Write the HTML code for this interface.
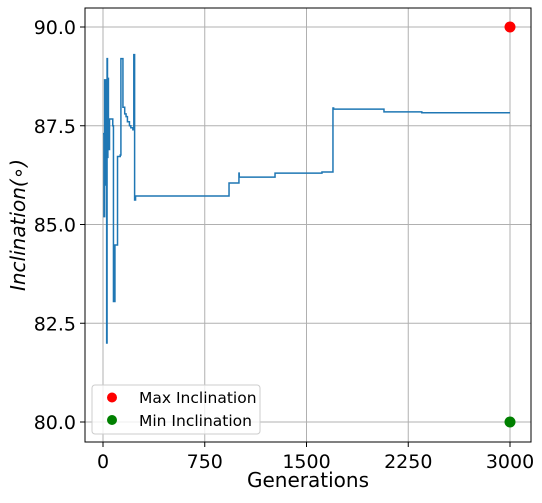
<!DOCTYPE html>
<html><head><meta charset="utf-8"><style>
body{margin:0;background:#fff;}
svg text{font-family:"DejaVu Sans","Liberation Sans",sans-serif;}
</style></head><body>
<svg id="chart" width="542" height="498" xmlns="http://www.w3.org/2000/svg">
<g id="grid"></g>
<g id="series"></g>
<rect x="85" y="8" width="446" height="434" fill="none" stroke="#000" stroke-width="1"/>
<g id="ticks"></g>
<text x="308" y="487" font-size="20" text-anchor="middle">Generations</text>
<text transform="translate(25,225) rotate(-90)" font-size="20" font-style="italic" text-anchor="middle">Inclination(∘)</text>
<g>
<rect x="92" y="385" width="168" height="49" rx="3" fill="#fff" fill-opacity="0.8" stroke="#ccc"/>
<circle cx="112" cy="397.5" r="5" fill="red"/>
<text x="139" y="403" font-size="15.5">Max Inclination</text>
<circle cx="112" cy="420" r="5" fill="green"/>
<text x="139" y="426" font-size="15.5">Min Inclination</text>
</g>
</svg>
<script>
const stepGens = [0,7,12,20,27,30,33,36,40,48,72,77,88,107,127,132,147,160,170,180,195,205,220,227,233,240,929,1002,1004,1268,1614,1695,1700,2071,2350];
const stepVals = [87.3,85.2,88.66,86.0,82.0,89.2,86.7,88.7,86.9,87.67,87.5,83.05,84.48,86.72,86.76,89.2,87.97,87.8,87.73,87.6,87.5,87.45,87.4,89.3,85.62,85.72,86.05,86.3,86.2,86.3,86.33,87.95,87.92,87.85,87.83];
const lastGen = 3000;
const maxPoint = [3000, 90];
const minPoint = [3000, 80];
const xTicks = [0,750,1500,2250,3000];
const yTicks = [80,82.5,85,87.5,90];
const yTickLabels = ["80.0","82.5","85.0","87.5","90.0"];

const NS="http://www.w3.org/2000/svg";
const X = g => 103 + g*(510-103)/3000;
const Y = v => 422 - (v-80)*(422-27)/10;
const grid=document.getElementById('grid'), ticks=document.getElementById('ticks'), series=document.getElementById('series');
function mk(tag,attrs,parent){const e=document.createElementNS(NS,tag);for(const k in attrs)e.setAttribute(k,attrs[k]);parent.appendChild(e);return e;}
xTicks.forEach(t=>{
  const gl=mk('line',{x1:X(t),x2:X(t),y1:8,y2:442,stroke:'#b0b0b0','stroke-width':1},grid);
  
  
  const tl=mk('line',{x1:X(t),x2:X(t),y1:442,y2:447,stroke:'#000'},ticks);
  
  
  const tx=mk('text',{x:X(t),y:468,'font-size':19,'text-anchor':'middle'},ticks);
  tx.textContent=t;
  
  
});
yTicks.forEach((t,i)=>{
  const gl=mk('line',{x1:85,x2:531,y1:Y(t),y2:Y(t),stroke:'#b0b0b0','stroke-width':1},grid);
  
  
  const tl=mk('line',{x1:80,x2:85,y1:Y(t),y2:Y(t),stroke:'#000'},ticks);
  
  
  const tx=mk('text',{x:76,y:Y(t)+7,'font-size':19,'text-anchor':'end'},ticks);
  tx.textContent=yTickLabels[i];
  
  
});
let pts=[];
stepGens.forEach((g,i)=>{
  const end = i+1<stepGens.length ? stepGens[i+1] : lastGen;
  pts.push(X(g).toFixed(2)+','+Y(stepVals[i]).toFixed(2));
  pts.push(X(end).toFixed(2)+','+Y(stepVals[i]).toFixed(2));
});
const pl=mk('polyline',{points:pts.join(' '),fill:'none',stroke:'#1f77b4','stroke-width':1.5},series);


const mx=mk('circle',{cx:X(maxPoint[0]),cy:Y(maxPoint[1]),r:5.5,fill:'red'},series);


const mn=mk('circle',{cx:X(minPoint[0]),cy:Y(minPoint[1]),r:5.5,fill:'green'},series);


</script>
</body></html>
